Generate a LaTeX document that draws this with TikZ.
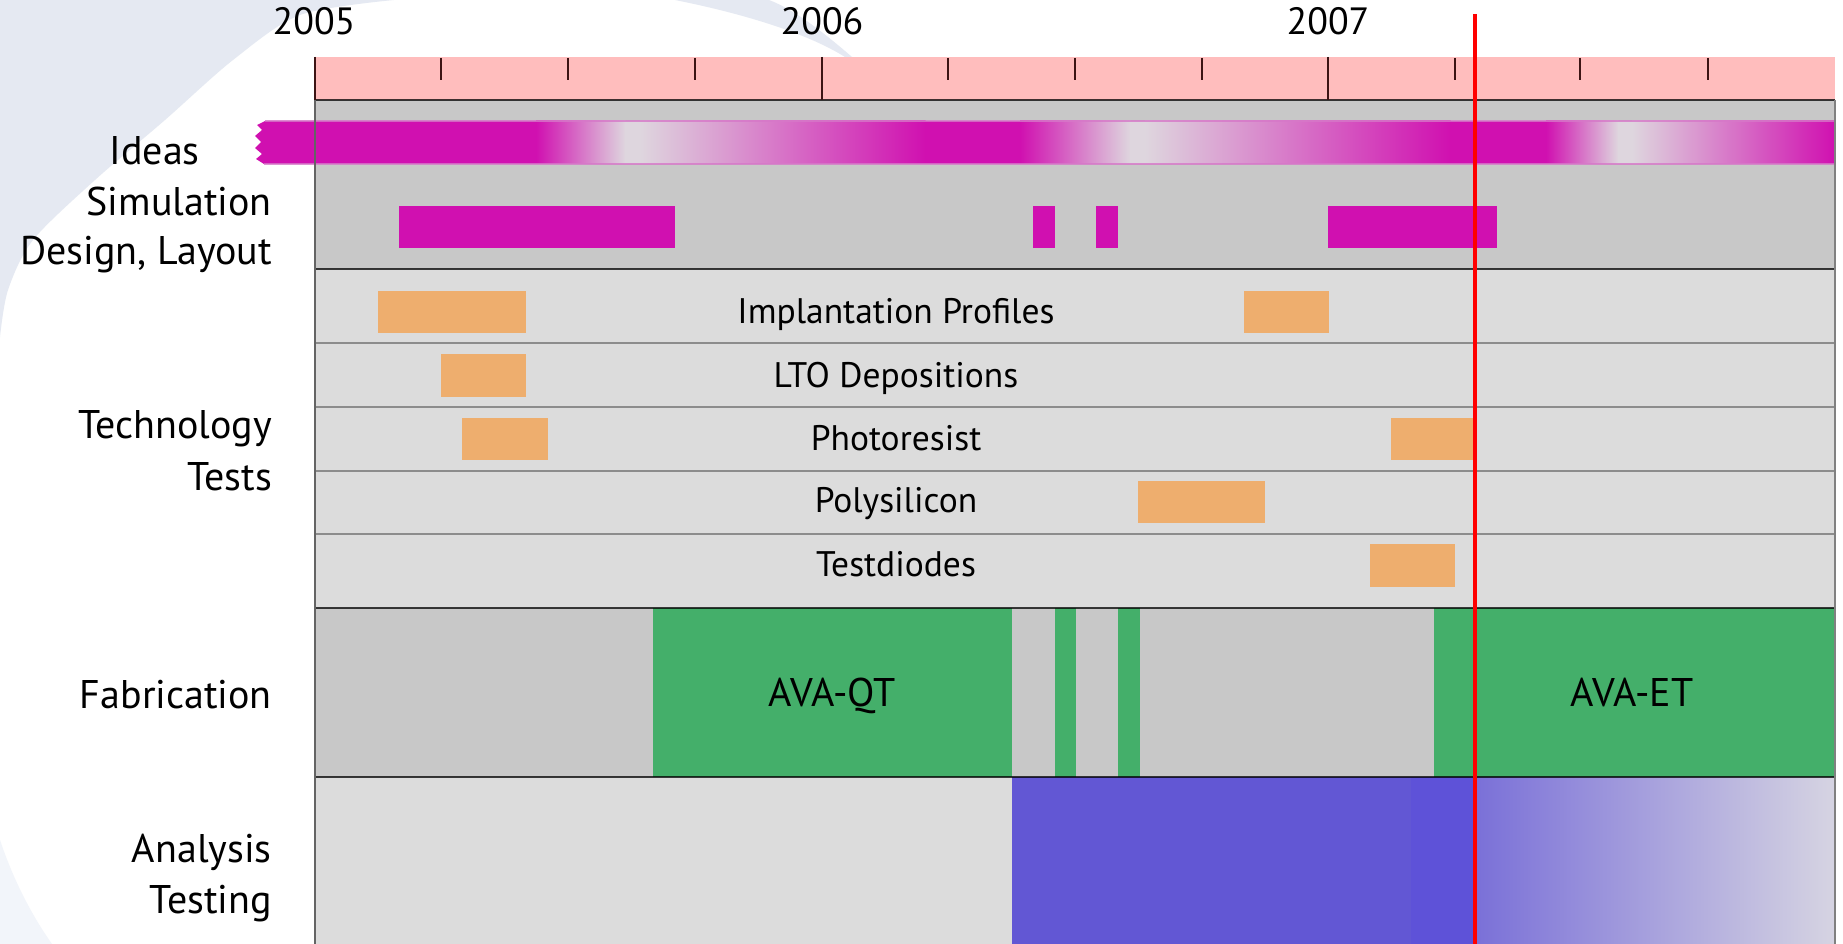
\documentclass[tikz,border=0pt]{standalone}
\usepackage{fontspec}
\setmainfont{PT Sans}
\definecolor{bgblue}{RGB}{229,233,242}
\definecolor{bgfaint}{RGB}{242,245,250}
\definecolor{hdrpink}{RGB}{255,189,189}
\definecolor{secgray}{RGB}{200,200,200}
\definecolor{seclight}{RGB}{220,220,220}
\definecolor{magen}{RGB}{208,16,176}
\definecolor{magmid}{RGB}{213,105,196}
\definecolor{magedge}{RGB}{214,120,200}
\definecolor{ideaslight}{RGB}{222,214,222}
\definecolor{orangebar}{RGB}{238,174,110}
\definecolor{greenfab}{RGB}{68,175,106}
\definecolor{bluean}{RGB}{98,87,212}
\definecolor{bluetwo}{RGB}{94,82,216}
\definecolor{bluefadeA}{RGB}{122,112,216}
\definecolor{bluefadeB}{RGB}{214,212,226}
\definecolor{tickcol}{RGB}{60,20,20}
\definecolor{rowline}{RGB}{140,140,140}
\definecolor{bordercol}{RGB}{100,100,100}
\begin{document}
\begin{tikzpicture}[x=1pt,y=-1pt,
  lbl/.style={font=\fontsize{40}{44}\selectfont, anchor=base east, inner sep=0pt},
  rowtxt/.style={font=\fontsize{35.5}{40}\selectfont, anchor=base, inner sep=0pt},
  yeartxt/.style={font=\fontsize{38}{42}\selectfont, anchor=base, inner sep=0pt},
  fabtxt/.style={font=\fontsize{40}{44}\selectfont, anchor=base, inner sep=0pt},
  simbar/.style={fill=magen},
  techbar/.style={fill=orangebar},
  fabbar/.style={fill=greenfab},
  secline/.style={draw=black, draw opacity=0.75, line width=2.5pt},
  rowsep/.style={draw=rowline, line width=2.5pt},
  yeartick/.style={draw=tickcol, line width=2.5pt},
  qtick/.style={draw=tickcol, line width=1.5pt},
  htick/.style={draw=tickcol, line width=2.5pt},
  nowline/.style={draw=red, line width=3.5pt},
  baredge/.style={draw=magedge, draw opacity=0.8, line width=1.5pt},
  fadein/.style={left color=ideaslight, middle color=magmid, right color=magen},
  fadeout/.style={left color=magen, right color=ideaslight}]
\useasboundingbox (0,0) rectangle (1843,944);
\fill[white] (0,0) rectangle (1843,944);
% background decoration
\fill[bgblue] plot[smooth] coordinates {(394,0) (300,15) (233,60) (165,120) (95,180) (33,240) (8,290) (0,337)} -- (0,0) -- cycle;
\fill[bgfaint] (0,840) .. controls (15,885) and (35,920) .. (52,944) -- (0,944) -- cycle;
\fill[bgblue] (675,0) .. controls (750,15) and (810,35) .. (845,57) -- (852,57) .. controls (815,25) and (790,8) .. (769,0) -- cycle;
% chart sections
\fill[hdrpink] (315,57) rectangle (1835,100);
\fill[secgray] (315,100) rectangle (1835,269);
\fill[seclight] (315,269) rectangle (1835,608);
\fill[secgray] (315,608) rectangle (1835,777);
\fill[seclight] (315,777) rectangle (1835,944);
% ideas bar
\fill[magen] (265,121) -- (257,125) -- (262,130) -- (255,136) -- (261,142) -- (255,148) -- (262,154) -- (256,159) -- (264,164) -- (536.5,164) -- (536.5,121) -- cycle;
\shade[fadeout] (536,121) rectangle (625.5,164);
\fill[ideaslight] (625,121) rectangle (640.5,164);
\shade[fadein] (640,121) rectangle (925.5,164);
\fill[magen] (925,121) rectangle (1020.5,164);
\shade[fadeout] (1020,121) rectangle (1130.5,164);
\fill[ideaslight] (1130,121) rectangle (1145.5,164);
\shade[fadein] (1145,121) rectangle (1450.5,164);
\fill[magen] (1450,121) rectangle (1546.5,164);
\shade[fadeout] (1546,121) rectangle (1618.5,164);
\fill[ideaslight] (1618,121) rectangle (1632.5,164);
\shade[fadein] (1632,121) rectangle (1835,164);
\draw[baredge] (265,121) -- (1835,121);
\draw[baredge] (264,164) -- (1835,164);
% simulation / design bars
\path[simbar] (399,206) rectangle (675,248);
\path[simbar] (1033,206) rectangle (1055,248);
\path[simbar] (1096,206) rectangle (1118,248);
\path[simbar] (1328,206) rectangle (1497,248);
% technology test bars
\path[techbar] (378,291) rectangle (526,333);
\path[techbar] (1244,291) rectangle (1329,333);
\path[techbar] (441,354) rectangle (526,397);
\path[techbar] (462,418) rectangle (548,460);
\path[techbar] (1391,418) rectangle (1475,460);
\path[techbar] (1138,481) rectangle (1265,523);
\path[techbar] (1370,544) rectangle (1455,587);
% fabrication blocks
\path[fabbar] (653,608) rectangle (1012,777);
\path[fabbar] (1055,608) rectangle (1075.5,777);
\path[fabbar] (1118,608) rectangle (1139.5,777);
\path[fabbar] (1434,608) rectangle (1835,777);
% analysis blocks
\fill[bluean] (1012,777) rectangle (1411.5,944);
\fill[bluetwo] (1411,777) rectangle (1475.5,944);
\shade[left color=bluefadeA, right color=bluefadeB] (1475,777) rectangle (1835,944);
% separators
\draw[rowsep] (315,343) -- (1835,343);
\draw[rowsep] (315,407) -- (1835,407);
\draw[rowsep] (315,471) -- (1835,471);
\draw[rowsep] (315,534) -- (1835,534);
\draw[secline] (315,100) -- (1835,100);
\draw[secline] (315,269) -- (1835,269);
\draw[secline] (315,608) -- (1835,608);
\draw[secline] (315,777) -- (1835,777);
\draw[draw=bordercol, line width=2.5pt] (315,57) -- (315,944);
\draw[draw=gray, line width=1.5pt] (1835,100) -- (1835,944);
% ticks
\foreach \tx in {315,822,1328} \draw[yeartick] (\tx,57) -- (\tx,100);
\foreach \tx in {441,695,948,1202,1455,1708} \draw[qtick] (\tx,58) -- (\tx,80);
\foreach \tx in {568,1075,1580} \draw[htick] (\tx,58) -- (\tx,80);
% current date line
\draw[nowline] (1475,14) -- (1475,944);
% year labels
\node[yeartxt] (y2005) at (314,35) {2005};
\node[yeartxt] (y2006) at (822,35) {2006};
\node[yeartxt] (y2007) at (1328,35) {2007};
% left labels
\node[lbl] (lIdeas) at (200,165) {Ideas};
\node[lbl] (lSim) at (272,215) {Simulation};
\node[lbl] (lDes) at (272,264) {Design, Layout};
\node[lbl] (lTech) at (272,438) {Technology};
\node[lbl] (lTests) at (272,490) {Tests};
\node[lbl] (lFab) at (272,708) {Fabrication};
\node[lbl] (lAna) at (272,862) {Analysis};
\node[lbl] (lTest) at (272,913) {Testing};
% row labels
\node[rowtxt] (rImpl) at (896,323) {Implantation Profiles};
\node[rowtxt] (rLTO) at (896,387) {LTO Depositions};
\node[rowtxt] (rPhoto) at (896,450) {Photoresist};
\node[rowtxt] (rPoly) at (896,512) {Polysilicon};
\node[rowtxt] (rDiode) at (896,576) {Testdiodes};
\node[fabtxt] (fQT) at (832,706) {AVA-QT};
\node[fabtxt] (fET) at (1632,706) {AVA-ET};
\end{tikzpicture}
\end{document}
